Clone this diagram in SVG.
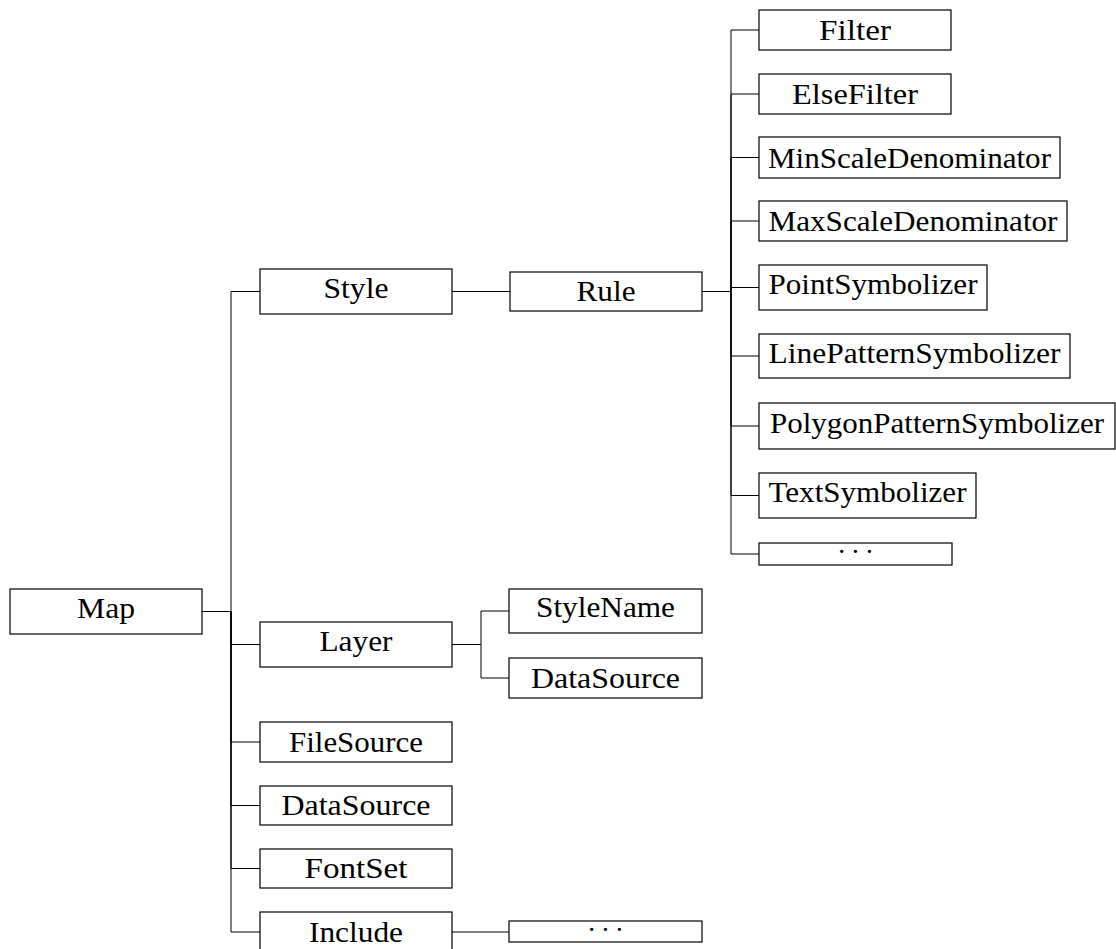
<svg xmlns="http://www.w3.org/2000/svg" width="1116" height="949" viewBox="0 0 1116 949">
<style>
.b{fill:#fff;stroke:#000;stroke-width:1.2}
.t{font-family:"Liberation Serif","DejaVu Serif",serif;font-size:29px;fill:#000;text-anchor:middle}
.d{font-family:"Liberation Serif","DejaVu Serif",serif;font-size:28px;fill:#000;text-anchor:middle;letter-spacing:4.5px}
.e{fill:none;stroke:#000;stroke-width:1}
</style>
<rect width="1116" height="949" fill="#fff"/>
<g id="connectors">
<path class="e" d="M202 611.5H231V291.5H260"/>
<path class="e" d="M202 611.5H231V644.5H260"/>
<path class="e" d="M202 611.5H231V742H260"/>
<path class="e" d="M202 611.5H231V805.5H260"/>
<path class="e" d="M202 611.5H231V868.5H260"/>
<path class="e" d="M202 611.5H231V932H260"/>
<path class="e" d="M452 291.5H510"/>
<path class="e" d="M702 291.5H731V30H759"/>
<path class="e" d="M702 291.5H731V94H759"/>
<path class="e" d="M702 291.5H731V157.5H759"/>
<path class="e" d="M702 291.5H731V221H759"/>
<path class="e" d="M702 291.5H731V287.5H759"/>
<path class="e" d="M702 291.5H731V356H759"/>
<path class="e" d="M702 291.5H731V426H759"/>
<path class="e" d="M702 291.5H731V495.5H759"/>
<path class="e" d="M702 291.5H731V554H759"/>
<path class="e" d="M452 644.5H481V611H509"/>
<path class="e" d="M452 644.5H481V678H509"/>
<path class="e" d="M452 932H509"/>
</g>
<g id="map"><rect class="b" x="10" y="589" width="192" height="45"/><text class="t" x="106" y="618" textLength="58" lengthAdjust="spacingAndGlyphs">Map</text></g>
<g id="style"><rect class="b" x="260" y="269" width="192" height="45"/><text class="t" x="356" y="298" textLength="65" lengthAdjust="spacingAndGlyphs">Style</text></g>
<g id="rule"><rect class="b" x="510" y="272" width="192" height="39"/><text class="t" x="606" y="301" textLength="59" lengthAdjust="spacingAndGlyphs">Rule</text></g>
<g id="filter"><rect class="b" x="759" y="10" width="192" height="40"/><text class="t" x="855" y="40" textLength="72" lengthAdjust="spacingAndGlyphs">Filter</text></g>
<g id="elsefilter"><rect class="b" x="759" y="74" width="192" height="40"/><text class="t" x="855" y="104" textLength="126" lengthAdjust="spacingAndGlyphs">ElseFilter</text></g>
<g id="minscale"><rect class="b" x="759" y="137" width="301" height="41"/><text class="t" x="909.5" y="168" textLength="283" lengthAdjust="spacingAndGlyphs">MinScaleDenominator</text></g>
<g id="maxscale"><rect class="b" x="759" y="201" width="308" height="40"/><text class="t" x="913" y="231" textLength="289" lengthAdjust="spacingAndGlyphs">MaxScaleDenominator</text></g>
<g id="pointsym"><rect class="b" x="759" y="265" width="228" height="45"/><text class="t" x="873" y="294" textLength="209" lengthAdjust="spacingAndGlyphs">PointSymbolizer</text></g>
<g id="linepatsym"><rect class="b" x="759" y="334" width="311" height="44"/><text class="t" x="914.5" y="363" textLength="292" lengthAdjust="spacingAndGlyphs">LinePatternSymbolizer</text></g>
<g id="polypatsym"><rect class="b" x="759" y="403" width="356" height="46"/><text class="t" x="937" y="433" textLength="334" lengthAdjust="spacingAndGlyphs">PolygonPatternSymbolizer</text></g>
<g id="textsym"><rect class="b" x="759" y="473" width="217" height="45"/><text class="t" x="867.5" y="502" textLength="198" lengthAdjust="spacingAndGlyphs">TextSymbolizer</text></g>
<g id="ruledots"><rect class="b" x="759" y="543" width="193" height="22"/><text class="d" x="857.75" y="561">···</text></g>
<g id="layer"><rect class="b" x="260" y="622" width="192" height="45"/><text class="t" x="356" y="651" textLength="73" lengthAdjust="spacingAndGlyphs">Layer</text></g>
<g id="stylename"><rect class="b" x="509" y="589" width="193" height="44"/><text class="t" x="605.5" y="617" textLength="139" lengthAdjust="spacingAndGlyphs">StyleName</text></g>
<g id="layerdatasource"><rect class="b" x="509" y="658" width="193" height="40"/><text class="t" x="605.5" y="688" textLength="149" lengthAdjust="spacingAndGlyphs">DataSource</text></g>
<g id="filesource"><rect class="b" x="260" y="722" width="192" height="40"/><text class="t" x="356" y="752" textLength="134" lengthAdjust="spacingAndGlyphs">FileSource</text></g>
<g id="datasource"><rect class="b" x="260" y="786" width="192" height="39"/><text class="t" x="356" y="815" textLength="149" lengthAdjust="spacingAndGlyphs">DataSource</text></g>
<g id="fontset"><rect class="b" x="260" y="849" width="192" height="39"/><text class="t" x="356" y="878" textLength="103" lengthAdjust="spacingAndGlyphs">FontSet</text></g>
<g id="include"><rect class="b" x="260" y="912" width="192" height="40"/><text class="t" x="356" y="942" textLength="94" lengthAdjust="spacingAndGlyphs">Include</text></g>
<g id="includedots"><rect class="b" x="509" y="921" width="193" height="21"/><text class="d" x="607.75" y="939">···</text></g>
</svg>
